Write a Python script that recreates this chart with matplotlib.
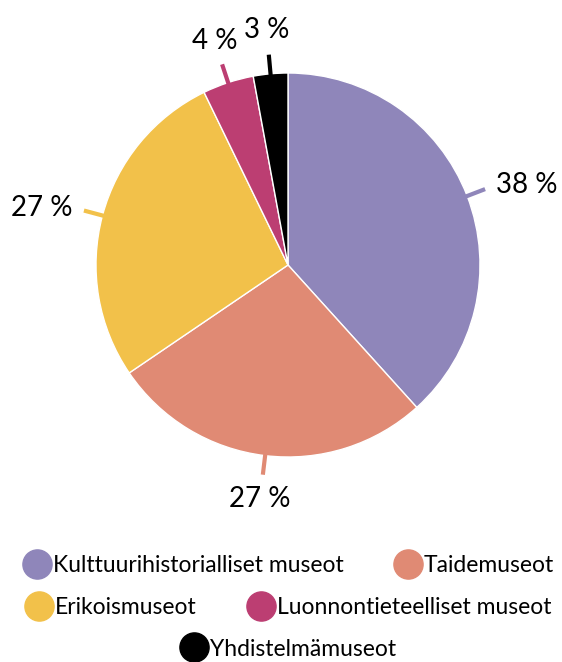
import numpy as np
import matplotlib.pyplot as plt
from matplotlib.lines import Line2D

plt.rcParams['font.family'] = ['Lato', 'DejaVu Sans']

# data
categories = ["Kulttuurihistorialliset museot", "Taidemuseot", "Erikoismuseot",
              "Luonnontieteelliset museot", "Yhdistelmämuseot"]
values = [38.3, 27.2, 27.3, 4.3, 2.9]
labels = ["38 %", "27 %", "27 %", "4 %", "3 %"]
colors = ["#8F86BA", "#E08A74", "#F2C14A", "#BC3E72", "#000000"]

fig = plt.figure(figsize=(5.62, 6.62), dpi=100)
# pie axes: centre (288, 265) px, radius 192 px
ax = fig.add_axes([96 / 562, (662 - 265 - 192) / 662, 384 / 562, 384 / 662])

wedges, _ = ax.pie(values, colors=colors, startangle=90, counterclock=False,
                   wedgeprops=dict(edgecolor="white", linewidth=1))
ax.set_xlim(-1, 1)
ax.set_ylim(-1, 1)
ax.set_aspect("equal")
ax.axis("off")

# leader ticks + labels
for w, lab, col in zip(wedges, labels, colors):
    ang = np.deg2rad((w.theta1 + w.theta2) / 2)
    c, s = np.cos(ang), np.sin(ang)
    ax.plot([c * 0.99, c * 1.1], [s * 0.99, s * 1.1], color=col, lw=3,
            solid_capstyle="butt", clip_on=False)
    if c > 0.4:
        ha, r = "left", 1.16
    elif c < -0.4:
        ha, r = "right", 1.16
    else:
        ha, r = "center", 1.23
    ax.text(c * r, s * r, lab, ha=ha, va="center", fontsize=20, color="black")

# legend in three centred rows
rows = [[0, 1], [2, 3], [4]]
row_y = [1 - 566 / 662, 1 - 608 / 662, 1 - 649 / 662]
for idx, y in zip(rows, row_y):
    handles = [Line2D([0], [0], marker="o", linestyle="none", markersize=21,
                      markerfacecolor=colors[i], markeredgecolor=colors[i]) for i in idx]
    fig.legend(handles, [categories[i] for i in idx], loc="center",
               bbox_to_anchor=(289.5 / 562, y), ncol=len(idx), frameon=False,
               fontsize=16.5, handlelength=1.0, handletextpad=0.2, columnspacing=2.3,
               borderpad=0, borderaxespad=0)

fig.savefig("out.png", dpi=100)
